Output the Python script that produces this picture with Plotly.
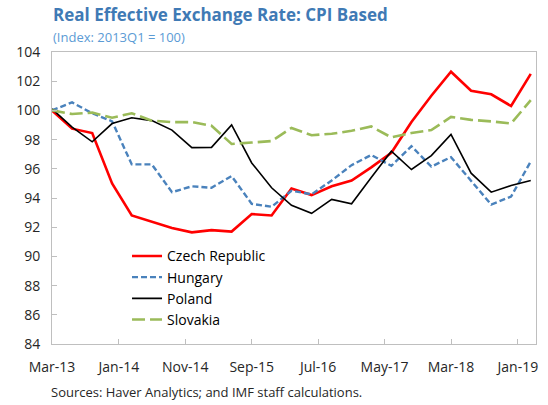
import pandas as pd
import plotly.graph_objects as go

# Quarterly observations, 2013Q1 .. 2019Q1 (plotted at Mar, Jun, Sep, Dec)
dates = pd.date_range("2013-03-01", periods=25, freq="3MS")

czech = [100.0, 98.75, 98.45, 95.0, 92.8, 92.35, 91.95, 91.65, 91.8, 91.7,
         92.9, 92.8, 94.65, 94.2, 94.8, 95.2, 96.1, 97.1, 99.2, 101.0,
         102.65, 101.35, 101.1, 100.3, 102.5]
hungary = [100.0, 100.55, 99.8, 99.25, 96.3, 96.3, 94.4, 94.8, 94.7, 95.5,
           93.6, 93.4, 94.5, 94.25, 95.2, 96.25, 96.95, 96.2, 97.55, 96.15,
           96.8, 95.2, 93.55, 94.1, 96.5]
poland = [100.1, 98.85, 97.85, 99.1, 99.5, 99.3, 98.65, 97.45, 97.47, 99.0,
          96.4, 94.7, 93.5, 92.95, 93.9, 93.6, 95.4, 97.2, 95.95, 96.9,
          98.35, 95.7, 94.4, 94.85, 95.2]
slovakia = [100.0, 99.75, 99.85, 99.5, 99.8, 99.3, 99.2, 99.2, 98.95, 97.7,
            97.8, 97.9, 98.8, 98.3, 98.4, 98.6, 98.9, 98.15, 98.45, 98.65,
            99.55, 99.35, 99.25, 99.1, 100.7]

series_names = ["Czech Republic", "Hungary", "Poland", "Slovakia"]
series_values = [czech, hungary, poland, slovakia]
series_styles = [
    dict(color="#FF0000", width=2.6, dash="solid"),
    dict(color="#4A82BC", width=2.4, dash="6px,3px"),
    dict(color="#000000", width=1.6, dash="solid"),
    dict(color="#9BBB59", width=2.6, dash="13px,5px"),
]

title_text = "Real Effective Exchange Rate: CPI Based"
subtitle_text = "(Index: 2013Q1 = 100)"
source_text = "Sources: Haver Analytics; and IMF staff calculations."

FONT = "Open Sans"

fig = go.Figure()
for name, vals, st in zip(series_names, series_values, series_styles):
    fig.add_trace(go.Scatter(x=dates, y=vals, mode="lines", name=name,
                             line=st))

fig.update_layout(
    width=548, height=405,
    margin=dict(l=52, r=10, t=52, b=61),
    paper_bgcolor="white", plot_bgcolor="white",
    font=dict(family=FONT, size=14, color="#262626"),
    showlegend=True,
    legend=dict(x=0.155, y=0.355, xanchor="left", yanchor="top",
                bgcolor="rgba(0,0,0,0)", font=dict(size=14, color="#000000"),
                tracegroupgap=0, itemwidth=30),
    annotations=[
        dict(text=f"<b>{title_text}</b>", xref="paper", yref="paper",
             x=-0.003, y=1.127, xanchor="left", yanchor="middle",
             showarrow=False, font=dict(size=17, color="#3F7AB5", family=FONT)),
        dict(text=subtitle_text, xref="paper", yref="paper",
             x=-0.003, y=1.051, xanchor="left", yanchor="middle",
             showarrow=False, font=dict(size=13, color="#5B9BD5", family=FONT)),
        dict(text=source_text, xref="paper", yref="paper",
             x=-0.006, y=-0.165, xanchor="left", yanchor="middle",
             showarrow=False, font=dict(size=13, color="#262626", family=FONT)),
    ],
)

fig.update_xaxes(
    type="date", range=["2013-03-01", "2019-03-25"],
    tick0="2013-03-01", dtick="M10", tickformat="%b-%y",
    showgrid=False, zeroline=False,
    showline=True, linecolor="#BFBFBF", linewidth=1, mirror=True,
    ticks="inside", ticklen=5, tickcolor="#BFBFBF",
    ticklabelstandoff=10,
    tickfont=dict(size=14, color="#262626"),
)
fig.update_yaxes(
    range=[84, 104], dtick=2, tick0=84,
    showgrid=False, zeroline=False,
    showline=True, linecolor="#BFBFBF", linewidth=1, mirror=True,
    ticks="inside", ticklen=5, tickcolor="#BFBFBF",
    ticklabelstandoff=8,
    tickfont=dict(size=14, color="#262626"),
)

fig.write_html("out.html",
               config={"displayModeBar": False},
               post_script="document.body.style.margin='0';"
                           "document.body.style.overflow='hidden';")
